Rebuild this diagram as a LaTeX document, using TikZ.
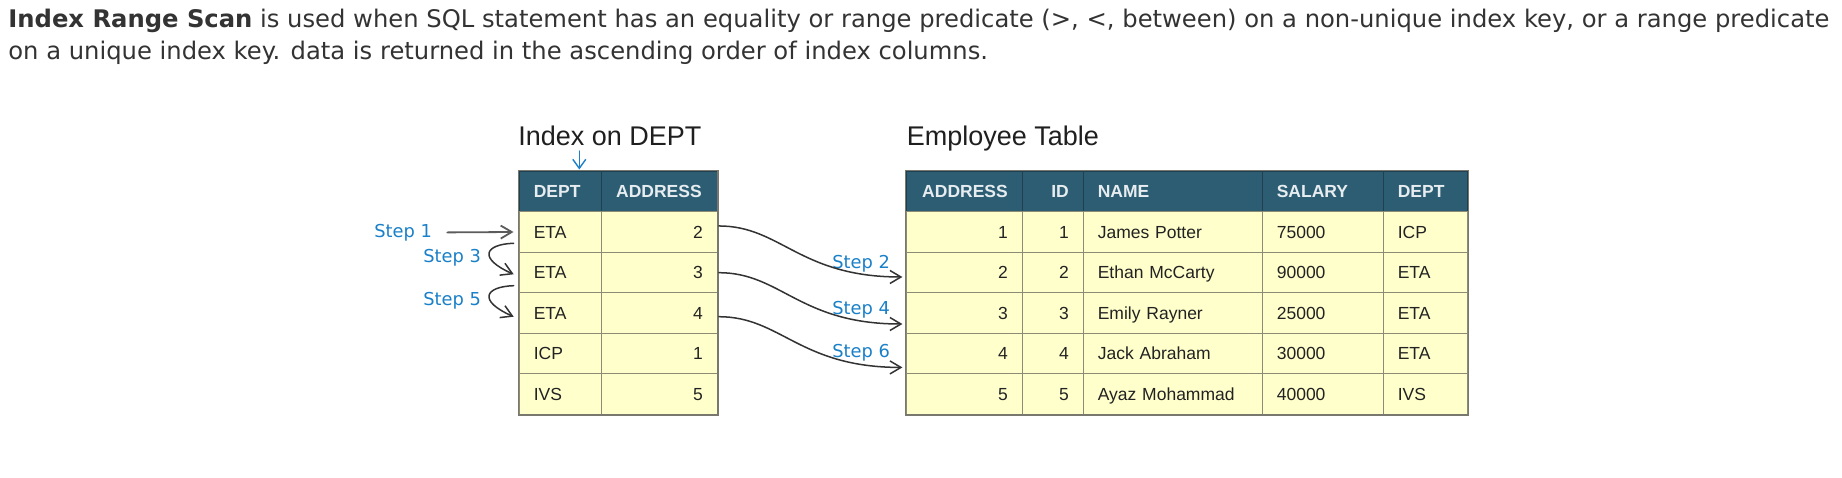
\documentclass[tikz,border=0pt]{standalone}
\usepackage{fontspec}
\setmainfont{Liberation Sans}
\newfontfamily\dvs{DejaVu Sans}
\usetikzlibrary{arrows.meta}
\definecolor{hdr}{RGB}{44,93,115}
\definecolor{hdrline}{RGB}{32,64,80}
\definecolor{rowc}{RGB}{255,255,204}
\definecolor{gridc}{RGB}{140,140,118}
\definecolor{outerc}{RGB}{120,120,110}
\definecolor{stepblue}{RGB}{26,128,200}
\definecolor{toptext}{RGB}{51,51,51}
\definecolor{hdrtext}{RGB}{230,236,239}
\definecolor{bodytext}{RGB}{34,34,34}
\definecolor{arrc}{RGB}{51,51,51}
\newlength\toplinelen
\newcommand\tcell[7]{% name, x0, x1, y0, y1, style, text
  \pgfmathsetmacro\tcw{(#3-#2)*0.5}%
  \pgfmathsetmacro\tch{(#5-#4)*0.5}%
  \pgfmathsetmacro\tctw{(#3-#2)*0.5-14.5}%
  \node[#6, minimum width=\tcw pt, minimum height=\tch pt, text width=\tctw pt] (#1) at ({(#2+#3)/2},{(#4+#5)/2}) {#7};%
}
\tikzset{
  cellbase/.style={draw=gridc, line width=0.6pt, fill=rowc, inner xsep=7.25pt, inner ysep=0pt,
    text height=6.3pt, text depth=0pt, font=\fontsize{8.75pt}{10pt}\selectfont, text=bodytext},
  lcell/.style={cellbase, align=left},
  rcell/.style={cellbase, align=right},
  hbase/.style={cellbase, fill=hdr, draw=hdrline, text=hdrtext, font=\bfseries\fontsize{8.75pt}{10pt}\selectfont},
  lhead/.style={hbase, align=left},
  rhead/.style={hbase, align=right},
  tabtitle/.style={anchor=base west, inner sep=0pt, text=black!88, font=\fontsize{13.5pt}{15pt}\selectfont},
  steplabel/.style={anchor=base west, inner sep=0pt, text=stepblue, font=\dvs\fontsize{8.9pt}{10pt}\selectfont},
  steparr/.style={draw=arrc, line width=0.75pt, line cap=round, -{Straight Barb[length=5.5pt,width=6.5pt]}},
  bluearr/.style={draw=stepblue, line width=0.7pt, line cap=round, -{Straight Barb[length=4.5pt,width=6.5pt]}}
}
\begin{document}
\settowidth\toplinelen{\dvs\fontsize{10pt}{12pt}\selectfont\textbf{Index Range Scan} is used when SQL statement has an equality or range predicate (>, <, between) on a non-unique index key, or a range predicate}%
\pgfmathsetmacro\topfs{10*910.5/\toplinelen}%
\pgfmathsetmacro\topls{1.2*\topfs}%
\begin{tikzpicture}[x=0.5pt,y=-0.5pt]
\useasboundingbox[fill=white] (0,0) rectangle (1842,477);
\tikzset{topfont/.style={anchor=base west, inner sep=0pt, text=toptext, font=\dvs\fontsize{\topfs pt}{\topls pt}\selectfont}}
\node[topfont] (line1) at (8,27.3) {\textbf{Index Range Scan} is used when SQL statement has an equality or range predicate (>, <, between) on a non-unique index key, or a range predicate};
\node[topfont] (line2) at (8,59) {on a unique index key. data is returned in the ascending order of index columns.};

% titles
\node[tabtitle] (ixtitle) at (518,145) {Index on DEPT};
\node[tabtitle] (emtitle) at (906.5,145) {Employee Table};

% index table
\tcell{ixh1}{519.3}{601.7}{171}{211.7}{lhead}{DEPT}
\tcell{ixh2}{601.7}{717.3}{171}{211.7}{lhead}{ADDRESS}
\foreach \vdv/\vav [count=\vi] in {ETA/2,ETA/3,ETA/4,ICP/1,IVS/5}{
  \pgfmathsetmacro\ya{211.7+(\vi-1)*40.52}
  \pgfmathsetmacro\yb{\ya+40.52}
  \tcell{ixd\vi}{519.3}{601.7}{\ya}{\yb}{lcell}{\vdv}
  \tcell{ixa\vi}{601.7}{717.3}{\ya}{\yb}{rcell}{\vav}
}
\draw[outerc, line width=0.7pt] (ixh1.north west) rectangle (ixa5.south east);

% employee table
\tcell{emh1}{906}{1022.3}{171}{211.7}{rhead}{ADDRESS}
\tcell{emh2}{1022.3}{1083.3}{171}{211.7}{rhead}{ID}
\tcell{emh3}{1083.3}{1262.3}{171}{211.7}{lhead}{NAME}
\tcell{emh4}{1262.3}{1383.3}{171}{211.7}{lhead}{SALARY}
\tcell{emh5}{1383.3}{1467.7}{171}{211.7}{lhead}{DEPT}
\foreach \vad/\vid/\vnm/\vsal/\vdep [count=\vi] in {1/1/James Potter/75000/ICP,2/2/Ethan McCarty/90000/ETA,3/3/Emily Rayner/25000/ETA,4/4/Jack Abraham/30000/ETA,5/5/Ayaz Mohammad/40000/IVS}{
  \pgfmathsetmacro\ya{211.7+(\vi-1)*40.52}
  \pgfmathsetmacro\yb{\ya+40.52}
  \tcell{ema\vi}{906}{1022.3}{\ya}{\yb}{rcell}{\vad}
  \tcell{emi\vi}{1022.3}{1083.3}{\ya}{\yb}{rcell}{\vid}
  \tcell{emn\vi}{1083.3}{1262.3}{\ya}{\yb}{lcell}{\vnm}
  \tcell{ems\vi}{1262.3}{1383.3}{\ya}{\yb}{lcell}{\vsal}
  \tcell{emd\vi}{1383.3}{1467.7}{\ya}{\yb}{lcell}{\vdep}
}
\draw[outerc, line width=0.7pt] (emh1.north west) rectangle (emd5.south east);

% blue arrow under title
\coordinate (dA) at (579.3,151);
\coordinate (dB) at (579.3,169.5);
\draw[bluearr] (dA) -- (dB);

% step labels left
\node[steplabel] (st1) at (374,237.2) {Step 1};
\node[steplabel] (st3) at (423,262.2) {Step 3};
\node[steplabel] (st5) at (423,305.5) {Step 5};
% step labels middle
\node[steplabel] (st2) at (832,268.2) {Step 2};
\node[steplabel] (st4) at (832,314.8) {Step 4};
\node[steplabel] (st6) at (832,357.2) {Step 6};

% left arrows
\coordinate (s1start) at (447.3,232.4);
\draw[steparr, draw=arrc!80, line width=0.9pt, shorten >=2.6pt] (s1start) -- (ixd1.west);
\draw[steparr] ([shift={(-5,11.3)}]ixd1.west) .. controls +(-29,1) and +(-36,-16) .. ([shift={(-5,1.8)}]ixd2.west);
\draw[steparr] ([shift={(-5,13.2)}]ixd2.west) .. controls +(-29,1) and +(-36,-16) .. ([shift={(-5,3.7)}]ixd3.west);

% middle arrows
\draw[steparr] ([shift={(1,-6)}]ixa1.east) .. controls +(62,0) and +(-103,0) .. ([shift={(-3,4.5)}]ema2.west);
\draw[steparr] ([shift={(1,0.2)}]ixa2.east) .. controls +(62,0) and +(-103,0) .. ([shift={(-3,11)}]ema3.west);
\draw[steparr] ([shift={(1,3.7)}]ixa3.east) .. controls +(62,0) and +(-103,0) .. ([shift={(-3,13.9)}]ema4.west);
\end{tikzpicture}
\end{document}
